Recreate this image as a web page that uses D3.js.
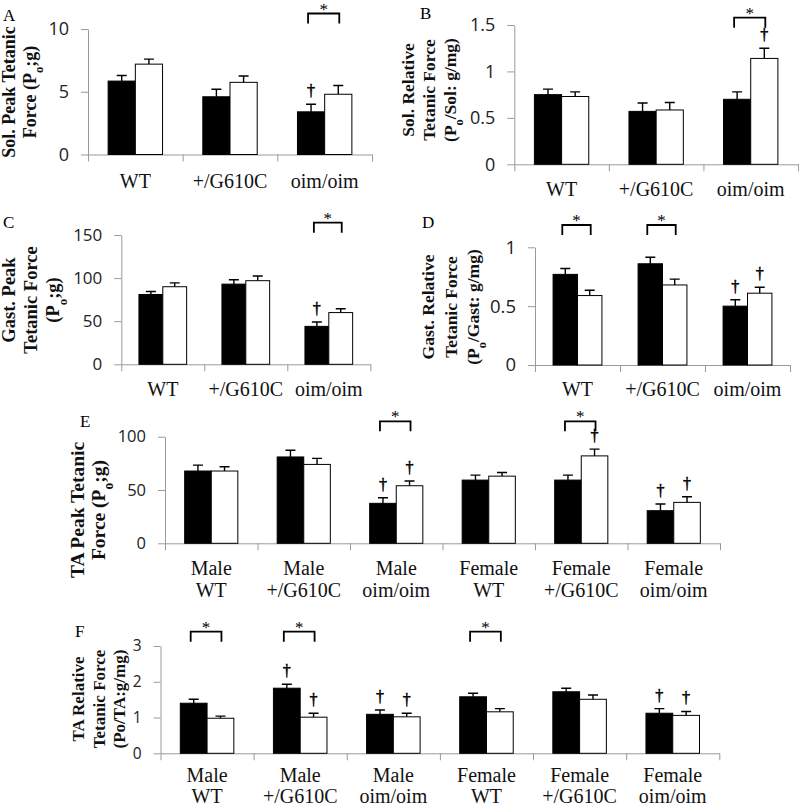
<!DOCTYPE html>
<html><head><meta charset="utf-8">
<script src="https://cdn.jsdelivr.net/npm/d3@7/dist/d3.min.js"></script>
<style>body{margin:0;background:#fff} svg{display:block}</style>
</head><body>
<svg id="chart" width="800" height="806"></svg>
<script>
// ---------------- data ----------------
const genotypes = ["WT", "+/G610C", "oim/oim"];
const sexGenotypes = [["Male","WT"],["Male","+/G610C"],["Male","oim/oim"],["Female","WT"],["Female","+/G610C"],["Female","oim/oim"]];

// A: Soleus peak tetanic force (g)
const solPeakBlack = [5.85, 4.6, 3.4];
const solPeakBlackErr = [0.45, 0.6, 0.6];
const solPeakWhite = [7.2, 5.75, 4.8];
const solPeakWhiteErr = [0.4, 0.5, 0.7];
const solPeakTicks = [0, 5, 10];

// B: Soleus relative tetanic force (g/mg)
const solRelBlack = [0.75, 0.57, 0.70];
const solRelBlackErr = [0.06, 0.09, 0.08];
const solRelWhite = [0.73, 0.585, 1.14];
const solRelWhiteErr = [0.05, 0.08, 0.11];
const solRelTicks = [0, 0.5, 1, 1.5];

// C: Gastrocnemius peak tetanic force (g)
const gastPeakBlack = [81, 93, 44];
const gastPeakBlackErr = [3.5, 5, 5];
const gastPeakWhite = [90, 97, 60];
const gastPeakWhiteErr = [4.5, 5.5, 4.5];
const gastPeakTicks = [0, 50, 100, 150];

// D: Gastrocnemius relative tetanic force (g/mg)
const gastRelBlack = [0.77, 0.86, 0.50];
const gastRelBlackErr = [0.05, 0.055, 0.055];
const gastRelWhite = [0.59, 0.68, 0.61];
const gastRelWhiteErr = [0.045, 0.05, 0.05];
const gastRelTicks = [0, 0.5, 1];

// E: TA peak tetanic force (g)
const taPeakBlack = [67.8, 81, 37.5, 59.3, 59.3, 30.6];
const taPeakBlackErr = [5.5, 6.3, 5.3, 4.7, 4.7, 6.3];
const taPeakWhite = [67.8, 74, 54, 63, 82, 38.4];
const taPeakWhiteErr = [4, 5.7, 4.4, 3.4, 6.3, 5.3];
const taPeakTicks = [0, 50, 100];

// F: TA relative tetanic force (g/mg)
const taRelBlack = [1.40, 1.82, 1.09, 1.58, 1.72, 1.12];
const taRelBlackErr = [0.11, 0.11, 0.12, 0.10, 0.10, 0.13];
const taRelWhite = [0.98, 1.01, 1.02, 1.16, 1.51, 1.06];
const taRelWhiteErr = [0.06, 0.11, 0.10, 0.09, 0.12, 0.11];
const taRelTicks = [0, 1, 2, 3];

// significance marks: "*" brackets (category index), "†" daggers ([category, series])
const sigA = [2], dagA = [[2,"black"]];
const sigB = [2], dagB = [[2,"white"]];
const sigC = [2], dagC = [[2,"black"]];
const sigD = [0,1], dagD = [[2,"black"],[2,"white"]];
const sigE = [2,4], dagE = [[2,"black"],[2,"white"],[4,"white"],[5,"black"],[5,"white"]];
const sigF = [0,1,3], dagF = [[1,"black"],[1,"white"],[2,"black"],[2,"white"],[5,"black"],[5,"white"]];

// ---------------- drawing ----------------
const svg = d3.select("#chart");
svg.append("rect").attr("width",800).attr("height",806).attr("fill","#fff");

const AXIS = "#9a9a9a";
const SERIF = "'Liberation Serif','Times New Roman',serif";
const SANS = "'Open Sans','DejaVu Sans',sans-serif";

function addTitleLine(t, str, fs) {
  const parts = str.split("_o");
  parts.forEach((s, k) => {
    if (k > 0) t.append("tspan").attr("baseline-shift","sub").attr("font-size", fs*0.7).text("o");
    if (s) t.append("tspan").text(s);
  });
}

function drawPanel(p, L) {
  const g = svg.append("g");
  const n = p.cats.length;
  const xb = d3.scaleLinear().domain([0, n]).range([L.ax, L.xEnd]);
  const x0 = d3.scaleBand().domain(d3.range(n)).range([L.ax, L.xEnd]).padding(0);
  const x1 = d3.scaleBand().domain(["black","white"]).range([0, x0.bandwidth()]).paddingInner(0).paddingOuter(0.74);
  const y = d3.scaleLinear().domain([0, p.yMax]).range([L.y0, L.yTop]);

  // y axis
  const ya = g.append("g").attr("transform", `translate(${L.ax},0)`)
    .call(d3.axisLeft(y).tickValues(p.ticks).tickSize(7).tickSizeOuter(0).tickPadding(12).tickFormat(d => String(d)));
  ya.selectAll("path,line").attr("stroke", AXIS);
  ya.selectAll("text").attr("font-family", SANS).attr("font-size", L.tickFont).attr("fill", "#222");

  // x axis with category boundary ticks
  const xa = g.append("g").attr("transform", `translate(0,${L.y0})`)
    .call(d3.axisBottom(xb).tickValues(d3.range(n + 1)).tickSize(7).tickSizeOuter(0).tickFormat(""));
  xa.selectAll("path,line").attr("stroke", AXIS);

  // bars
  const series = [
    {key:"black", vals:p.black, errs:p.blackErr, fill:"#000"},
    {key:"white", vals:p.white, errs:p.whiteErr, fill:"#fff"}
  ];
  const bw = x1.bandwidth();
  const cx = (i, key) => x0(i) + x1(key) + bw / 2;
  const top = (i, key) => { const s = series.find(s => s.key === key); return s.vals[i] + s.errs[i]; };

  series.forEach(s => {
    const gs = g.append("g");
    gs.selectAll("path.err").data(s.vals).join("path")
      .attr("d", (v, i) => {
        const c = cx(i, s.key), yt = y(v + s.errs[i]);
        return `M${c},${y(v)}V${yt}M${c-5},${yt}H${c+5}`;
      })
      .attr("stroke", "#000").attr("stroke-width", 1.4).attr("fill", "none");
    gs.selectAll("rect").data(s.vals).join("rect")
      .attr("x", (v, i) => x0(i) + x1(s.key))
      .attr("y", v => y(v))
      .attr("width", bw)
      .attr("height", v => y(0) - y(v))
      .attr("fill", s.fill).attr("stroke", "#000").attr("stroke-width", 1);
  });

  // significance brackets
  p.sig.forEach(i => {
    const xl = cx(i, "black") - 3, xr = cx(i, "white") + 1, by = L.bracketY;
    g.append("path").attr("d", `M${xl},${by+10}V${by}H${xr}V${by+10}`)
      .attr("fill", "none").attr("stroke", "#000").attr("stroke-width", 1.8);
    g.append("text").attr("x", (xl + xr) / 2).attr("y", by + 1).attr("text-anchor", "middle")
      .attr("font-family", SERIF).attr("font-size", 17).attr("fill", "#000").text("*");
  });
  p.dag.forEach(([i, key]) => {
    g.append("text").attr("x", cx(i, key)).attr("y", y(top(i, key)) - 8).attr("text-anchor", "middle")
      .attr("font-family", SERIF).attr("font-size", 16).attr("fill", "#000")
      .attr("stroke", "#000").attr("stroke-width", 0.5).text("\u2020");
  });

  // category labels
  p.cats.forEach((c, i) => {
    const lines = Array.isArray(c) ? c : [c];
    const t = g.append("text").attr("text-anchor", "middle").attr("font-family", SERIF)
      .attr("font-size", 20).attr("fill", "#111");
    lines.forEach((ln, k) => t.append("tspan").attr("x", x0(i) + x0.bandwidth() / 2).attr("y", L.catY[k]).text(ln));
  });

  // y title
  p.title.forEach((ln, k) => {
    const tx = L.titleX[k];
    const t = g.append("text").attr("transform", `translate(${tx},${L.titleY}) rotate(-90)`)
      .attr("text-anchor", "middle").attr("font-family", SERIF).attr("font-weight", "bold")
      .attr("font-size", L.titleFont).attr("fill", "#111");
    addTitleLine(t, ln, L.titleFont);
  });

  // panel letter
  g.append("text").attr("x", L.letter[0]).attr("y", L.letter[1]).attr("font-family", SERIF)
    .attr("font-size", 17).text(p.id);
}

drawPanel(
  {id:"A", cats:genotypes, black:solPeakBlack, blackErr:solPeakBlackErr, white:solPeakWhite, whiteErr:solPeakWhiteErr,
   yMax:10, ticks:solPeakTicks, sig:sigA, dag:dagA, title:["Sol. Peak Tetanic","Force (P_o;g)"]},
  {ax:88, xEnd:372, y0:154.5, yTop:29, catY:[188], tickFont:18, titleX:[15,36], titleY:92, titleFont:18, letter:[3,21], bracketY:13.5});

drawPanel(
  {id:"B", cats:genotypes, black:solRelBlack, blackErr:solRelBlackErr, white:solRelWhite, whiteErr:solRelWhiteErr,
   yMax:1.5, ticks:solRelTicks, sig:sigB, dag:dagB, title:["Sol. Relative","Tetanic Force","(P_o/Sol: g/mg)"]},
  {ax:514.3, xEnd:798, y0:164.3, yTop:25, catY:[196], tickFont:18, titleX:[414,435,456], titleY:90, titleFont:17.5, letter:[420,19], bracketY:17.7});

drawPanel(
  {id:"C", cats:genotypes, black:gastPeakBlack, blackErr:gastPeakBlackErr, white:gastPeakWhite, whiteErr:gastPeakWhiteErr,
   yMax:150, ticks:gastPeakTicks, sig:sigC, dag:dagC, title:["Gast. Peak","Tetanic Force","(P_o;g)"]},
  {ax:121.3, xEnd:370.3, y0:364.3, yTop:235, catY:[396], tickFont:17, titleX:[15,37,59], titleY:300, titleFont:18.5, letter:[3,228], bracketY:222.7});

drawPanel(
  {id:"D", cats:genotypes, black:gastRelBlack, blackErr:gastRelBlackErr, white:gastRelWhite, whiteErr:gastRelWhiteErr,
   yMax:1, ticks:gastRelTicks, sig:sigD, dag:dagD, title:["Gast. Relative","Tetanic Force","(P_o/Gast: g/mg)"]},
  {ax:535, xEnd:790, y0:365, yTop:247.3, catY:[396], tickFont:18.5, titleX:[434,457,479], titleY:307, titleFont:17.5, letter:[422,228], bracketY:225});

drawPanel(
  {id:"E", cats:sexGenotypes, black:taPeakBlack, blackErr:taPeakBlackErr, white:taPeakWhite, whiteErr:taPeakWhiteErr,
   yMax:100, ticks:taPeakTicks, sig:sigE, dag:dagE, title:["TA Peak Tetanic","Force (P_o;g)"]},
  {ax:165, xEnd:720, y0:543.3, yTop:436.7, catY:[575,597], tickFont:16.5, titleX:[84,105], titleY:510, titleFont:19.5, letter:[80,427], bracketY:421.3});

drawPanel(
  {id:"F", cats:sexGenotypes, black:taRelBlack, blackErr:taRelBlackErr, white:taRelWhite, whiteErr:taRelWhiteErr,
   yMax:3, ticks:taRelTicks, sig:sigF, dag:dagF, title:["TA Relative","Tetanic Force","(Po/TA:g/mg)"]},
  {ax:160.5, xEnd:719.3, y0:753.3, yTop:646, catY:[782,803], tickFont:15.5, titleX:[84,105,125], titleY:699, titleFont:17, letter:[75,637], bracketY:631.7});
</script>
</body></html>
